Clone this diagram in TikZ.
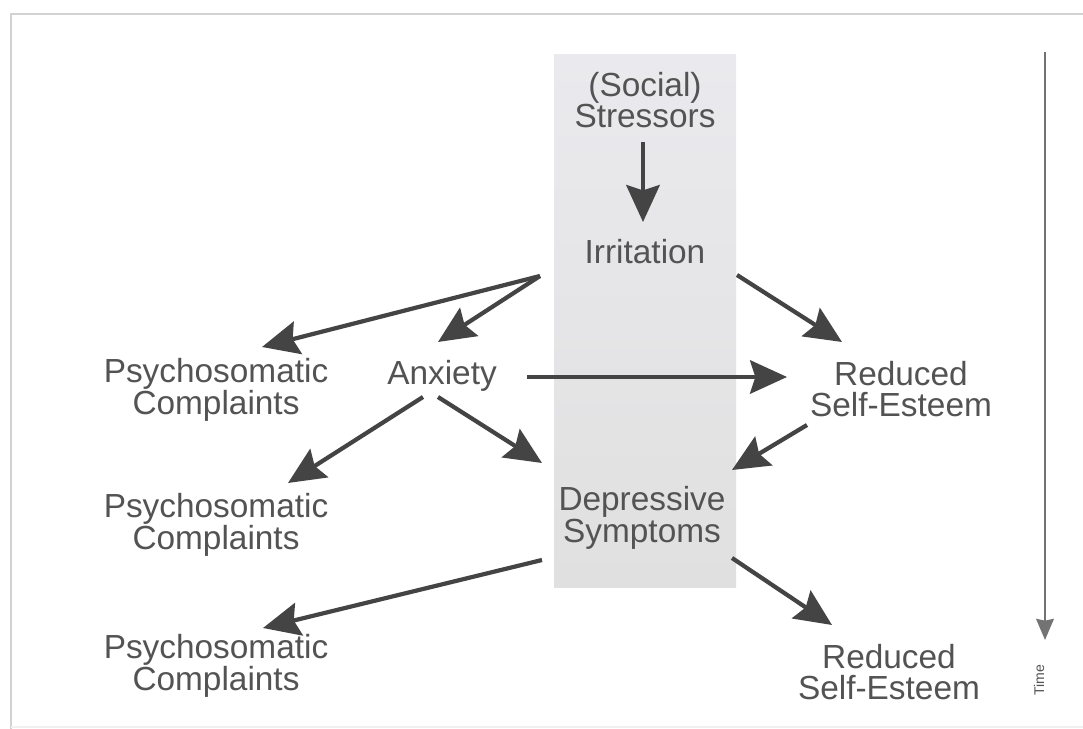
\documentclass[tikz,border=0pt]{standalone}
\usepackage{fontspec}
\setmainfont{Liberation Sans}
\usetikzlibrary{arrows.meta}
\definecolor{txtgray}{HTML}{535353}
\definecolor{arrgray}{HTML}{444444}

\begin{document}
\begin{tikzpicture}[x=0.02cm,y=-0.02cm,
  lbl/.style={align=center,text=txtgray,inner sep=0pt,font=\fontsize{19}{18}\selectfont},
  arr/.style={-{Stealth[length=21pt,width=19pt,inset=3pt]},draw=arrgray,line width=2.4pt}]
\useasboundingbox (0,0) rectangle (1083,729);
\fill[white] (0,0) rectangle (1083,729);
% frame of the page
\draw[gray!35,line width=1.2pt] (11,729) -- (11,14) -- (1083,14);
\draw[gray!12,line width=0.8pt] (11,727) -- (1083,727);
% shaded band
\shade[top color={rgb,255:red,234;green,234;blue,238},middle color={rgb,255:red,212;green,212;blue,212},bottom color={rgb,255:red,224;green,224;blue,224}] (554,55) rectangle (736,588);
% nodes
\node[lbl] (str) at (645,100) {(Social)\\Stressors};
\node[lbl] (irr) at (645,252) {Irritation};
\node[lbl] (psy1) at (216,390) {Psychosomatic\\Complaints};
\node[lbl] (anx) at (442,376) {Anxiety};
\node[lbl] (red1) at (901,389) {Reduced\\Self-Esteem};
\node[lbl] (dep) at (642,518) {Depressive\\Symptoms};
\node[lbl] (psy2) at (216,525) {Psychosomatic\\Complaints};
\node[lbl] (psy3) at (216,666) {Psychosomatic\\Complaints};
\node[lbl] (red2) at (889,672) {Reduced\\Self-Esteem};
% arrows
\draw[arr] ([shift={(-2,42)}]str.center) -- ([shift={(-2,-30)}]irr.center);
\draw[arr] ([shift={(-105,24)}]irr.center) -- ([shift={(46,-43)}]psy1.center);
\draw[arr] ([shift={(-105,24)}]irr.center) -- ([shift={(-4,-34)}]anx.center);
\draw[arr] ([shift={(92,23)}]irr.center) -- ([shift={(-59,-47)}]red1.center);
\draw[arr] ([shift={(85,1)}]anx.center) -- ([shift={(-114,-12)}]red1.center);
\draw[arr] ([shift={(-19,21)}]anx.center) -- ([shift={(72,-42)}]psy2.center);
\draw[arr] ([shift={(-4,21)}]anx.center) -- ([shift={(-100,-55)}]dep.center);
\draw[arr] ([shift={(-94,36)}]red1.center) -- ([shift={(90,-48)}]dep.center);
\draw[arr] ([shift={(-100,42)}]dep.center) -- ([shift={(47,-38)}]psy3.center);
\draw[arr] ([shift={(90,40)}]dep.center) -- ([shift={(-57,-47)}]red2.center);
% time axis
\coordinate (ttop) at (1045,52);
\coordinate (tend) at (1045,640);
\draw[-{Stealth[length=12pt,width=10pt,inset=1pt]},draw={rgb,255:red,115;green,115;blue,115},line width=1.4pt] (ttop) -- (tend);
\node[rotate=90,text=txtgray,inner sep=0pt,font=\fontsize{8}{8}\selectfont] (time) at (1039,680) {Time};
\end{tikzpicture}
\end{document}
